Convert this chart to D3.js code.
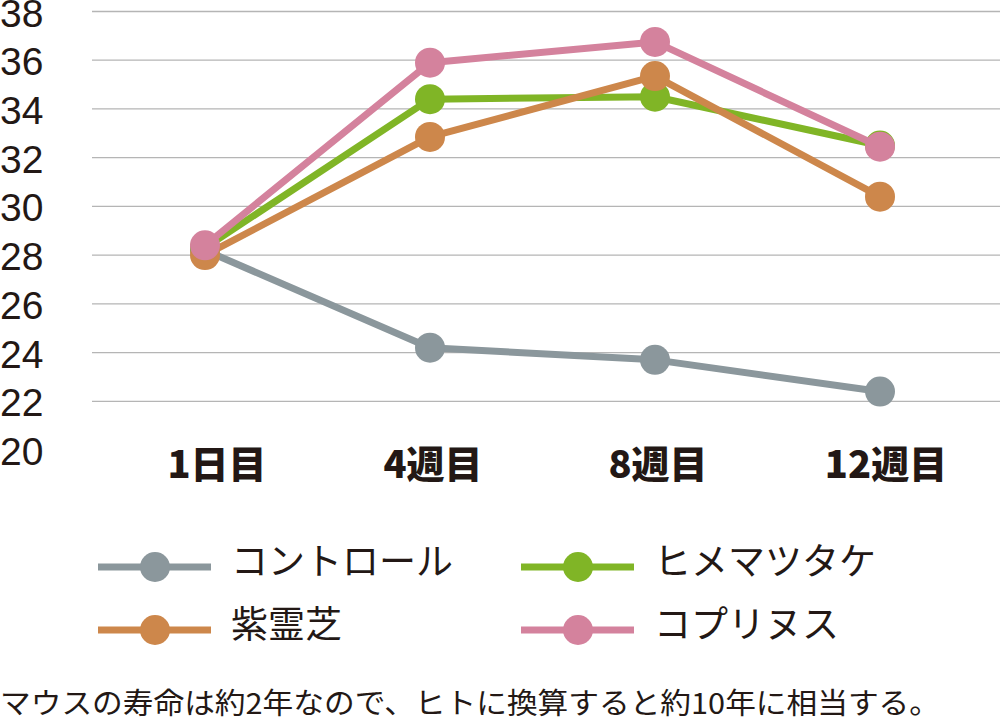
<!DOCTYPE html>
<html><head><meta charset="utf-8">
<script src="https://cdn.jsdelivr.net/npm/d3@7"></script>
<style>body{margin:0;background:#fff}svg{display:block}</style>
</head><body>
<svg id="c" width="1000" height="721"></svg>
<script>
const categories = ["1日目", "4週目", "8週目", "12週目"];
const yTicks = [20, 22, 24, 26, 28, 30, 32, 34, 36, 38];
const seriesNames = ["コントロール", "ヒメマツタケ", "紫霊芝", "コプリヌス"];
const control = [28.2, 24.2, 23.7, 22.4];
const himematsutake = [28.3, 34.4, 34.5, 32.5];
const reishi = [28.0, 32.85, 35.35, 30.4];
const coprinus = [28.4, 35.9, 36.75, 32.45];
const note = "マウスの寿命は約2年なので、ヒトに換算すると約10年に相当する。";

const colors = {"コントロール":"#8b979c","ヒメマツタケ":"#80b526","紫霊芝":"#cd874b","コプリヌス":"#d4829d"};
const series = [
  {name:"コントロール", values:control},
  {name:"ヒメマツタケ", values:himematsutake},
  {name:"紫霊芝", values:reishi},
  {name:"コプリヌス", values:coprinus}
];

const svg = d3.select("#c");
const font = "'Noto Sans CJK JP', 'Noto Sans', sans-serif";
const x = d3.scalePoint().domain(categories).range([205, 880]);
const y = d3.scaleLinear().domain([20, 38]).range([450, 11.5]);

// grid
svg.append("g").selectAll("line").data(yTicks.filter(d => d > 20)).join("line")
  .attr("x1", 92).attr("x2", 1000)
  .attr("y1", d => y(d)).attr("y2", d => y(d))
  .attr("stroke", "#b5b5b5").attr("stroke-width", 1.3);

// y tick labels
svg.append("g").selectAll("text").data(yTicks).join("text")
  .attr("x", 0).attr("y", d => y(d) + 1).attr("dy", "0.36em")
  .attr("font-family", "'Liberation Sans', Arial, sans-serif")
  .attr("font-size", 39).attr("fill", "#231815")
  .text(d => d);

// x labels
const xOff = {"1日目":12, "4週目":3, "8週目":3, "12週目":6};
svg.append("g").selectAll("text").data(categories).join("text")
  .attr("x", d => x(d) + xOff[d]).attr("y", 478)
  .attr("text-anchor", "middle")
  .attr("font-family", font).attr("font-weight", 900)
  .attr("font-size", 38).attr("fill", "#231815")
  .text(d => d);

// lines
const line = d3.line().x((d, i) => x(categories[i])).y(d => y(d));
const g = svg.append("g");
series.forEach(s => {
  const sg = g.append("g");
  sg.append("path").datum(s.values).attr("d", line)
    .attr("fill", "none").attr("stroke", colors[s.name])
    .attr("stroke-width", 7).attr("stroke-linejoin", "round");
  sg.selectAll("circle").data(s.values).join("circle")
    .attr("cx", (d, i) => x(categories[i])).attr("cy", d => y(d))
    .attr("r", 15).attr("fill", colors[s.name]);
});

// legend
const legendPos = [
  {name:"コントロール", lx:98, ly:567},
  {name:"ヒメマツタケ", lx:521, ly:567},
  {name:"紫霊芝", lx:98, ly:630},
  {name:"コプリヌス", lx:521, ly:630}
];
const lg = svg.append("g");
legendPos.forEach(p => {
  lg.append("line").attr("x1", p.lx).attr("x2", p.lx + 113)
    .attr("y1", p.ly).attr("y2", p.ly)
    .attr("stroke", colors[p.name]).attr("stroke-width", 7);
  lg.append("circle").attr("cx", p.lx + 57).attr("cy", p.ly).attr("r", 15)
    .attr("fill", colors[p.name]);
  lg.append("text").attr("x", p.lx + 133).attr("y", p.ly - 6).attr("dy", "0.38em")
    .attr("font-family", font).attr("font-size", 37).attr("fill", "#231815")
    .text(p.name);
});

// footnote
svg.append("text").attr("x", 0).attr("y", 714)
  .attr("font-family", font).attr("font-size", 29).attr("fill", "#231815")
  .attr("textLength", 940).attr("lengthAdjust", "spacingAndGlyphs")
  .text(note);
</script>
</body></html>
